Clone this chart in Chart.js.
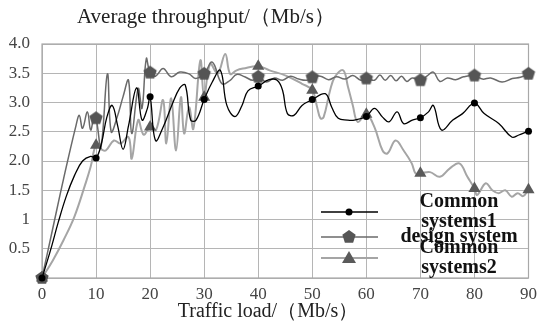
<!DOCTYPE html>
<html>
<head>
<meta charset="utf-8">
<script src="https://cdn.jsdelivr.net/npm/chart.js@4.4.0/dist/chart.umd.min.js"></script>
<style>
  html,body{margin:0;padding:0;background:#fff}
  #wrap{width:543px;height:329px}
</style>
</head>
<body>
<div id="wrap"><canvas id="c" width="543" height="329"></canvas></div>
<script>
// ===== data =====
const seriesNames = ['Common systems1', 'design system', 'Common systems2'];
const yTickLabels = ['', '0.5', '1', '1.5', '2.0', '2.5', '3.0', '3.5', '4.0'];
const chartTitle = 'Average throughput/（Mb/s）';
const xTitle = 'Traffic load/（Mb/s）';

const common1X = [0,1.5,3,4.5,6,7.5,9,10, 11,12,13,14,15,16,17.5,18.5,19.5,20, 21,22.5,24,25.5,26.5,27.5,28.5,30,
  31.5,33,34.2,35.7,37,38.1,40, 42,43.5,44.5,45.4,46.6,48.1,50, 52.4,53.6,54.8,56.5,57.8,60,
  61.5,63,64.2,65.7,66.9,68.5,70, 71.5,72.4,73.9,76,77.8,80, 81.8,84.5,86.9,88.1,90];
const common1Y = [0,0.45,0.95,1.4,1.75,2.0,2.08,2.05, 2.3,2.75,2.95,2.6,2.2,2.6,3.25,2.7,2.9,3.1, 2.35,2.6,2.95,3.25,3.3,2.7,2.7,3.05,
  3.35,3.55,2.95,2.76,2.95,3.2,3.28, 3.39,3.38,3.21,2.81,2.78,2.95,3.05, 3.15,2.92,2.73,2.7,2.7,2.76,
  2.9,2.75,2.67,2.84,2.64,2.7,2.74, 2.84,2.95,2.53,2.7,2.81,2.99, 2.81,2.64,2.41,2.44,2.51];

const designX = [0,2,4,6.3,6.9,7.5,8.4,9,9.6,10, 10.9,12.1,12.8,13.9,15,16,16.6,17.8,18.5,19.3,20,
  21,22.4,23.9,25.5,27.2,28.4,30, 31.5,33.3,34.8,36,37.5,39,40, 41.5,43,44.5,46,47.5,49,50,
  51.5,53,54.5,56,57.5,59,60, 61.5,62.5,63.5,64.5,65.5,66.5,67.5,68.5,70, 71.2,72.4,73.6,75,76.5,78,80,
  81.5,83,85.1,87,88.5,90];
const designY = [0,0.85,1.7,2.61,2.78,2.56,2.84,2.53,2.73,2.73, 2.24,3.49,2.5,2.75,3.1,3.38,2.47,3.24,2.9,3.75,3.51,
  3.45,3.58,3.44,3.52,3.49,3.41,3.49, 3.69,3.32,3.38,3.48,3.44,3.38,3.44, 3.35,3.42,3.38,3.45,3.4,3.38,3.43,
  3.45,3.39,3.44,3.4,3.46,3.38,3.41, 3.38,3.47,3.38,3.46,3.37,3.45,3.36,3.42,3.38, 3.45,3.52,3.36,3.42,3.39,3.44,3.46,
  3.4,3.42,3.35,3.41,3.43,3.49];

const common2X = [0,2,4,6,8,9,10, 11,11.8,13.3,14.5,16,16.6,17.8,18.8,20, 21.1,22.4,23,23.9,24.8,25.7,26.3,27.2,28,29.3,30,
  31.1,32.5,33.9,34.8,36,37.2,40, 42.1,45.1,48.1,50, 50.9,51.5,52.1,53.3,54.2,55.7,56.6,57.5,58.4,60,
  61.5,63,63.9,65.4,66.9,68.4,69.1,70, 71.8,73.6,75.4,77.2,78.7,80, 80.5,82.1,83.3,84.5,85.7,86.9,88,89,90];
const common2Y = [0,0.3,0.65,1.05,1.6,1.9,2.27, 2.2,2.18,2.35,2.3,2.41,2.04,2.7,2.45,2.58, 2.53,3.04,2.3,3.07,2.18,3.09,2.47,2.92,2.55,3.72,3.09,
  3.66,3.5,3.83,3.49,3.55,3.58,3.62, 3.55,3.46,3.32,3.21, 2.92,2.73,2.75,3.21,3.44,3.55,3.27,2.95,2.67,2.8,
  2.58,2.18,2.13,2.35,2.18,1.96,1.79,1.79, 1.81,1.73,1.87,1.96,1.73,1.53, 1.42,1.62,1.5,1.45,1.5,1.39,1.45,1.4,1.51];

const pts = (xs, ys) => xs.map((x, i) => ({x: x, y: ys[i]}));
const isMark = c => c.raw && c.raw.x % 10 === 0;

function pentagon(r, color){
  const cv = document.createElement('canvas');
  cv.width = cv.height = 2*r + 2;
  const g = cv.getContext('2d');
  g.fillStyle = color;
  g.beginPath();
  for (let i = 0; i < 5; i++){
    const a = -Math.PI/2 + i*2*Math.PI/5;
    g.lineTo(r + 1 + r*Math.cos(a), r + 1 + r*Math.sin(a));
  }
  g.closePath(); g.fill();
  return cv;
}
const pent = pentagon(7, '#555');
const FONT = '"Liberation Serif", "Times New Roman", serif';

/* ===== frame, titles, legend ===== */
const deco = {
  id: 'deco',
  beforeDatasetsDraw(chart){
    const {ctx, chartArea: a} = chart;
    ctx.save();
    ctx.strokeStyle = '#a8a8a8'; ctx.lineWidth = 1.2;
    ctx.strokeRect(a.left, a.top, a.right - a.left, a.bottom - a.top);
    ctx.restore();
  },
  afterDraw(chart){
    const ctx = chart.ctx;
    ctx.save();
    ctx.fillStyle = '#222';
    ctx.font = '21px ' + FONT;
    ctx.textAlign = 'left'; ctx.textBaseline = 'alphabetic';
    ctx.fillText(chartTitle, 77, 23);
    ctx.textAlign = 'center';
    ctx.font = '20px ' + FONT;
    ctx.fillText(xTitle, 268, 317);

    // legend
    const rows = [212, 237, 258];
    chart.data.datasets.forEach((ds, i) => {
      const y = rows[i];
      ctx.strokeStyle = ds.borderColor; ctx.lineWidth = ds.borderWidth;
      ctx.beginPath(); ctx.moveTo(321, y); ctx.lineTo(378, y); ctx.stroke();
      ctx.fillStyle = ds.pointBackgroundColor;
      if (i === 0){ ctx.beginPath(); ctx.arc(349, y, 3.5, 0, Math.PI*2); ctx.fill(); }
      if (i === 1){ ctx.drawImage(pent, 349 - pent.width/2, y - pent.height/2); }
      if (i === 2){
        ctx.beginPath(); ctx.moveTo(349, y - 7); ctx.lineTo(356, y + 5); ctx.lineTo(342, y + 5); ctx.closePath(); ctx.fill();
      }
      ctx.font = 'bold 20px ' + FONT;
      ctx.fillStyle = '#111';
      ctx.textAlign = 'center'; ctx.textBaseline = 'middle';
      const lines = ctx.measureText(ds.label).width > 130 ? [ds.label.slice(0, ds.label.indexOf(' ')), ds.label.slice(ds.label.indexOf(' ') + 1)] : [ds.label];
      const lh = 20.5;
      lines.forEach((t, k) => ctx.fillText(t, 459, y - (lines.length - 1)*lh/2 + k*lh));
    });
    ctx.restore();
  }
};

new Chart(document.getElementById('c'), {
  type: 'line',
  data: {
    datasets: [
      { label: seriesNames[0], data: pts(common1X, common1Y), borderColor: '#000', borderWidth: 1.3,
        pointBackgroundColor: '#000', pointBorderWidth: 0, pointStyle: 'circle',
        pointRadius: c => isMark(c) ? 3.5 : 0, tension: 0.4, clip: 10 },
      { label: seriesNames[1], data: pts(designX, designY), borderColor: '#6a6a6a', borderWidth: 1.5,
        pointBackgroundColor: '#555', pointBorderWidth: 0, pointStyle: c => isMark(c) ? pent : false,
        pointRadius: c => isMark(c) ? 7 : 0, tension: 0.4, clip: 10 },
      { label: seriesNames[2], data: pts(common2X, common2Y), borderColor: '#a5a5a5', borderWidth: 2,
        pointBackgroundColor: '#5a5a5a', pointBorderWidth: 0, pointStyle: 'triangle',
        pointRadius: c => isMark(c) ? 7 : 0, tension: 0.4, clip: 10 }
    ]
  },
  options: {
    responsive: false,
    animation: false,
    devicePixelRatio: 1,
    layout: { padding: { top: 44, right: 6, left: 0, bottom: 0 } },
    plugins: { legend: { display: false }, title: { display: false }, tooltip: { enabled: false } },
    scales: {
      x: {
        type: 'linear', min: 0, max: 90,
        afterFit: s => { s.height = 51; },
        border: { display: false },
        grid: { color: '#b5b5b5', borderDash: [1.5, 2], drawTicks: false, lineWidth: 1 },
        ticks: { stepSize: 10, padding: 6, color: '#444', font: { family: FONT, size: 17 } }
      },
      y: {
        min: 0, max: 4,
        afterFit: s => { s.width = 42; },
        border: { display: false },
        grid: { color: '#b5b5b5', borderDash: [1.5, 2], drawTicks: false, lineWidth: 1 },
        ticks: { stepSize: 0.5, padding: 12, color: '#444', font: { family: FONT, size: 17 },
                 callback: (v, i) => yTickLabels[i] }
      }
    }
  },
  plugins: [deco]
});
</script>
</body>
</html>
